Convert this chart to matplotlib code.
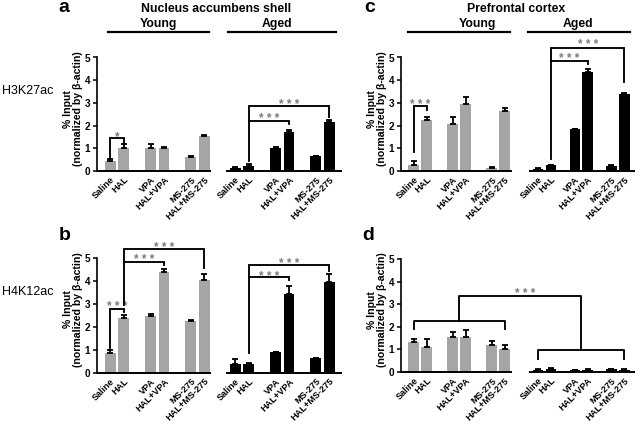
import matplotlib
matplotlib.use("Agg")
import matplotlib.pyplot as plt
from matplotlib.lines import Line2D

plt.rcParams['font.family'] = ['Liberation Sans', 'DejaVu Sans']

# ---------------- data ----------------
groups = ["Saline", "HAL", "VPA", "HAL+VPA", "MS-275", "HAL+MS-275"]
yticks = [0, 1, 2, 3, 4, 5]

a_young = [0.44, 1.00, 1.00, 1.00, 0.60, 1.52]
a_young_err = [0.08, 0.20, 0.18, 0.07, 0.05, 0.05]
a_aged = [0.14, 0.24, 1.03, 1.72, 0.66, 2.18]
a_aged_err = [0.02, 0.05, 0.03, 0.08, 0.02, 0.07]

b_young = [0.87, 2.39, 2.45, 4.39, 2.24, 4.05]
b_young_err = [0.12, 0.11, 0.09, 0.14, 0.04, 0.25]
b_aged = [0.39, 0.38, 0.88, 3.44, 0.63, 3.95]
b_aged_err = [0.22, 0.05, 0.02, 0.34, 0.02, 0.37]

c_young = [0.27, 2.26, 2.07, 2.96, 0.14, 2.65]
c_young_err = [0.17, 0.12, 0.29, 0.28, 0.04, 0.11]
c_aged = [0.10, 0.25, 1.84, 4.35, 0.23, 3.38]
c_aged_err = [0.02, 0.03, 0.02, 0.15, 0.02, 0.05]

d_young = [1.32, 1.10, 1.54, 1.54, 1.19, 1.03]
d_young_err = [0.15, 0.35, 0.25, 0.33, 0.20, 0.16]
d_aged = [0.11, 0.13, 0.09, 0.11, 0.12, 0.11]
d_aged_err = [0.02, 0.03, 0.02, 0.02, 0.02, 0.02]

# ---------------- layout ----------------
W, H = 640, 423
GREY = '#a5a5a5'
STAR = '#7a7a7a'

fig = plt.figure(figsize=(W / 100, H / 100), dpi=100)


def rect(l, r, top, bot):
    return [l / W, 1 - bot / H, (r - l) / W, (bot - top) / H]


left_pos_y = [0, 1, 3, 4, 6, 7]
left_pos_a = [9.33, 10.33, 12.33, 13.33, 15.33, 16.33]
right_pos_y = [0, 1, 3, 4, 6, 7]
right_pos_a = [9.57, 10.57, 12.42, 13.38, 15.22, 16.22]

panels = {
    'a': dict(rect=rect(97, 341.5, 57.5, 171), xlim=(-1.0, 17.25), seg=((-1.0, 7.5), (8.65, 17.25)),
              py=left_pos_y, pa=left_pos_a, y=a_young, ye=a_young_err, a=a_aged, ae=a_aged_err, wpx=244.5),
    'b': dict(rect=rect(97, 341.5, 258, 372.5), xlim=(-1.0, 17.25), seg=((-1.0, 7.5), (8.65, 17.25)),
              py=left_pos_y, pa=left_pos_a, y=b_young, ye=b_young_err, a=b_aged, ae=b_aged_err, wpx=244.5),
    'c': dict(rect=rect(401, 635, 57.5, 171), xlim=(-0.97, 17.03), seg=((-0.97, 7.6), (8.9, 17.03)),
              py=right_pos_y, pa=right_pos_a, y=c_young, ye=c_young_err, a=c_aged, ae=c_aged_err, wpx=234),
    'd': dict(rect=rect(401, 635, 259, 372), xlim=(-0.97, 17.03), seg=((-0.97, 7.6), (8.9, 17.03)),
              py=right_pos_y, pa=right_pos_a, y=d_young, ye=d_young_err, a=d_aged, ae=d_aged_err, wpx=234),
}

axes = {}
for key, p in panels.items():
    ax = fig.add_axes(p['rect'])
    axes[key] = ax
    ax.bar(p['py'], p['y'], width=0.8, color=GREY, zorder=2)
    ax.bar(p['pa'], p['a'], width=0.8, color='black', zorder=2)
    ax.errorbar(p['py'], p['y'], yerr=[[0] * 6, p['ye']], fmt='none', ecolor='black',
                elinewidth=1.3, capsize=2.5, capthick=1.3, zorder=3)
    ax.errorbar(p['pa'], p['a'], yerr=[[0] * 6, p['ae']], fmt='none', ecolor='black',
                elinewidth=1.3, capsize=2.5, capthick=1.3, zorder=3)
    ax.set_xlim(*p['xlim'])
    ax.set_ylim(0, 5)
    ax.set_yticks(yticks)
    ax.set_yticklabels([str(t) for t in yticks], fontsize=7.2, fontweight='bold')
    ax.set_xticks(list(p['py']) + list(p['pa']))
    ax.set_xticklabels(groups + groups, rotation=45, ha='right', rotation_mode='anchor',
                       fontsize=6.6, fontweight='bold')
    ax.tick_params(axis='x', length=0, pad=3)
    ax.tick_params(axis='y', length=3, width=1.1, pad=2)
    for s in ['top', 'right', 'bottom']:
        ax.spines[s].set_visible(False)
    ax.spines['left'].set_linewidth(1.2)
    for (x0, x1) in p['seg']:
        ax.plot([x0, x1], [0, 0], color='black', lw=1.4, clip_on=False, zorder=4, solid_capstyle='butt')
    ax.set_ylabel("% Input\n(normalized by \u03b2-actin)", fontsize=7.6, fontweight='bold', linespacing=1.05)
    ax.yaxis.set_label_coords(-14 / p['wpx'], 0.55)
    ax.patch.set_alpha(0)

LW = 1.35


def star_text(ax, x, y, txt):
    ax.text(x, y - 0.31, txt, ha='center', va='baseline', fontsize=8.5, fontweight='bold',
            color=STAR, clip_on=False)


def compare(ax, x1, x2, y_line, y_start, y_end, txt, y_txt):
    ax.plot([x1, x1, x2, x2], [y_start, y_line, y_line, y_end], color='black', lw=LW,
            clip_on=False, solid_joinstyle='miter', zorder=5)
    star_text(ax, (x1 + x2) / 2, y_txt, txt)


S3 = "* * *"
# panel a
P = panels['a']
compare(axes['a'], P['py'][0], P['py'][1], 1.45, 0.58, 1.25, "*", 1.68)
compare(axes['a'], P['pa'][1], P['pa'][5], 2.85, 0.45, 2.38, S3, 3.07)
compare(axes['a'], P['pa'][1], P['pa'][3], 2.21, 2.21, 2.08, S3, 2.45)
# panel b
P = panels['b']
compare(axes['b'], P['py'][0], P['py'][1], 2.77, 1.06, 2.63, S3, 3.05)
compare(axes['b'], P['py'][1], P['py'][5], 5.38, 2.94, 4.58, S3, 5.62)
compare(axes['b'], P['py'][1], P['py'][3], 4.83, 4.83, 4.70, S3, 5.07)
compare(axes['b'], P['pa'][1], P['pa'][5], 4.70, 0.83, 4.42, S3, 4.92)
compare(axes['b'], P['pa'][1], P['pa'][3], 4.15, 4.15, 4.03, S3, 4.37)
# panel c
P = panels['c']
compare(axes['c'], P['py'][0], P['py'][1], 2.87, 0.85, 2.70, S3, 3.09)
compare(axes['c'], P['pa'][1], P['pa'][5], 5.41, 0.55, 3.90, S3, 5.71)
compare(axes['c'], P['pa'][1], P['pa'][3], 4.86, 4.86, 4.70, S3, 5.12)
# panel d (group comparison)
P = panels['d']
ax = axes['d']
ym, ya = 2.26, 0.96
ax.plot([P['py'][0], P['py'][0], P['py'][5], P['py'][5]], [1.89, ym, ym, 1.89], color='black', lw=LW, zorder=5)
ax.plot([P['pa'][0], P['pa'][0], P['pa'][5], P['pa'][5]], [0.59, ya, ya, 0.59], color='black', lw=LW, zorder=5)
mid_y = (P['py'][0] + P['py'][5]) / 2
mid_a = (P['pa'][0] + P['pa'][5]) / 2
ax.plot([mid_y, mid_y, mid_a, mid_a], [ym, 3.36, 3.36, ya], color='black', lw=LW, zorder=5)
star_text(ax, (mid_y + mid_a) / 2 + 0.4, 3.65, S3)

# ---------------- headers ----------------
def ftext(x, y, s, **kw):
    fig.text(x / W, 1 - y / H, s, **kw)


def fline(x0, x1, y):
    fig.add_artist(Line2D([x0 / W, x1 / W], [1 - y / H, 1 - y / H], color='black', lw=1.6))


ftext(64, 8, "a", fontsize=14, fontweight='bold', ha='center', va='center')
ftext(65, 235, "b", fontsize=14, fontweight='bold', ha='center', va='center')
ftext(370, 8, "c", fontsize=14, fontweight='bold', ha='center', va='center')
ftext(368, 235, "d", fontsize=14, fontweight='bold', ha='center', va='center')

ftext(216, 8.5, "Nucleus accumbens shell", fontsize=8.8, fontweight='bold', ha='center', va='center')
ftext(516, 8.5, "Prefrontal cortex", fontsize=8.8, fontweight='bold', ha='center', va='center')
ftext(158, 23.5, "Young", fontsize=8.8, fontweight='bold', ha='center', va='center')
ftext(277, 23.5, "Aged", fontsize=8.8, fontweight='bold', ha='center', va='center')
ftext(477, 23.5, "Young", fontsize=8.8, fontweight='bold', ha='center', va='center')
ftext(578, 23.5, "Aged", fontsize=8.8, fontweight='bold', ha='center', va='center')
fline(108, 209, 32.5)
fline(228, 336, 32.5)
fline(408, 510, 32.5)
fline(528, 630, 32.5)

ftext(2, 91, "H3K27ac", fontsize=9, ha='left', va='center')
ftext(2, 292, "H4K12ac", fontsize=9, ha='left', va='center')

fig.savefig("out.png", dpi=100)
